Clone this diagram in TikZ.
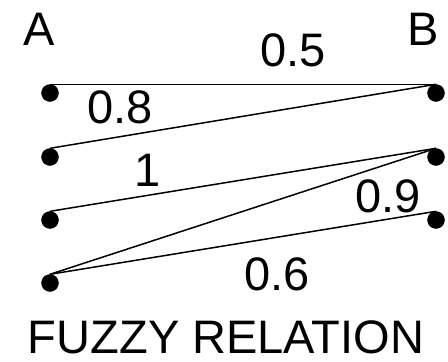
\documentclass[tikz,border=0pt]{standalone}
\usepackage{fontspec}
\setmainfont{Liberation Sans}
\tikzset{
  dot/.style={circle,draw=black,fill=black,inner sep=0pt,minimum size=17pt},
  lbl/.style={inner sep=0pt,font=\fontsize{47}{50}\selectfont},
  rel/.style={line width=1.5pt}
}
\begin{document}
\begin{tikzpicture}[x=1pt,y=-1pt]
\useasboundingbox (0,0) rectangle (448,362);
% the two sets
\node[lbl] (A) at (39,29) {A};
\node[lbl] (B) at (423,29) {B};
\foreach \i/\y in {1/93, 2/157, 3/220, 4/283} % edit here for the A rows
\node[dot] (a\i) at (50,\y) {};
\foreach \i/\y in {1/93, 2/157, 3/220} % edit here for the B rows
\node[dot] (b\i) at (436,\y) {};
% the relation
\draw[rel] (a1.north) -- (b1.north);
\draw[rel] (b1.north) -- (a2.north);
\draw[rel] (a3.north) -- (b2.north);
\draw[rel] (a4.north) -- (b2.north);
\draw[rel] (a4.north) -- (b3.north);
% membership grades
\node[lbl] (g1) at (293,50) {0.5};
\node[lbl] (g2) at (120,107) {0.8};
\node[lbl] (g3) at (148,170) {1};
\node[lbl] (g4) at (388,196) {0.9};
\node[lbl] (g5) at (277,274) {0.6};
\node[lbl] (title) at (226,337) {FUZZY RELATION};
\end{tikzpicture}
\end{document}
